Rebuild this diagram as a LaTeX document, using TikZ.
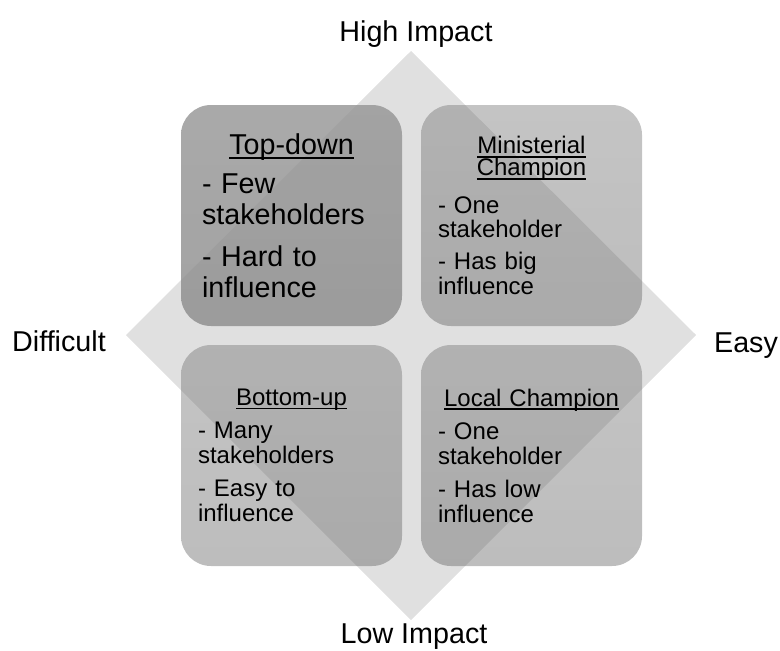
\documentclass[tikz,border=0pt]{standalone}
\usepackage{fontspec}
\setmainfont{Liberation Sans}
\usepackage{tikz}

\definecolor{diamondgray}{gray}{0.878}
\definecolor{quadtop}{gray}{0.45}
\definecolor{quadbottom}{gray}{0.38}
\definecolor{strongtop}{gray}{0.58}
\definecolor{strongbottom}{gray}{0.545}

% underline at a fixed depth, as in the slides
\newcommand{\heading}[1]{\setbox0\hbox{#1}\rlap{\rule[-0.16em]{\wd0}{0.07em}}\box0}

\begin{document}
\begin{tikzpicture}[x=0.5pt,y=0.5pt,
  quad/.style={rounded corners=15pt, minimum width=110.5pt, minimum height=110.5pt,
    inner sep=8.5pt, text width=93.5pt, align=left, top color=quadtop, bottom color=quadbottom,
    fill opacity=0.42, text opacity=1, font=\fontsize{12}{12.4}\selectfont},
  strongquad/.style={quad, inner sep=10.5pt, text width=89.5pt, top color=strongtop,
    bottom color=strongbottom, fill opacity=0.8, font=\fontsize{14.35}{15.5}\selectfont},
  axislabel/.style={anchor=base, font=\fontsize{14.35}{16}\selectfont}]
\useasboundingbox (0,0) rectangle (780,650);

% background diamond
\fill[diamondgray] (411,599) -- (696,315) -- (411,30) -- (126,315) -- cycle;

% axis labels
\node[axislabel] (high) at (416,608.3) {High Impact};
\node[axislabel] (low) at (414,7) {Low Impact};
\node[axislabel] (hard) at (59,298.3) {Difficult};
\node[axislabel] (easy) at (746,297.3) {Easy};

% quadrants
\node[strongquad] (topdown) at (291.5,434.5) {\makebox[\linewidth]{\heading{Top-down}}\\[4pt]
  - Few\\ stakeholders\\[5.6pt] - Hard to\\ influence};
\node[quad] (minister) at (531.5,434.5) {\makebox[\linewidth]{\heading{Ministerial}}\\[-1.5pt]
  \makebox[\linewidth]{\heading{Champion}}\\[6.3pt]
  - One\\ stakeholder\\[3.4pt] - Has big\\ influence};
\node[quad] (bottomup) at (291.5,194.5) {\makebox[\linewidth]{\heading{Bottom-up}}\\[4.2pt]
  - Many\\ stakeholders\\[4.2pt] - Easy to\\ influence};
\node[quad] (local) at (531.5,194.5) {\makebox[\linewidth]{\heading{Local Champion}}\\[4.2pt]
  - One\\ stakeholder\\[4.2pt] - Has low\\ influence};
\end{tikzpicture}
\end{document}
